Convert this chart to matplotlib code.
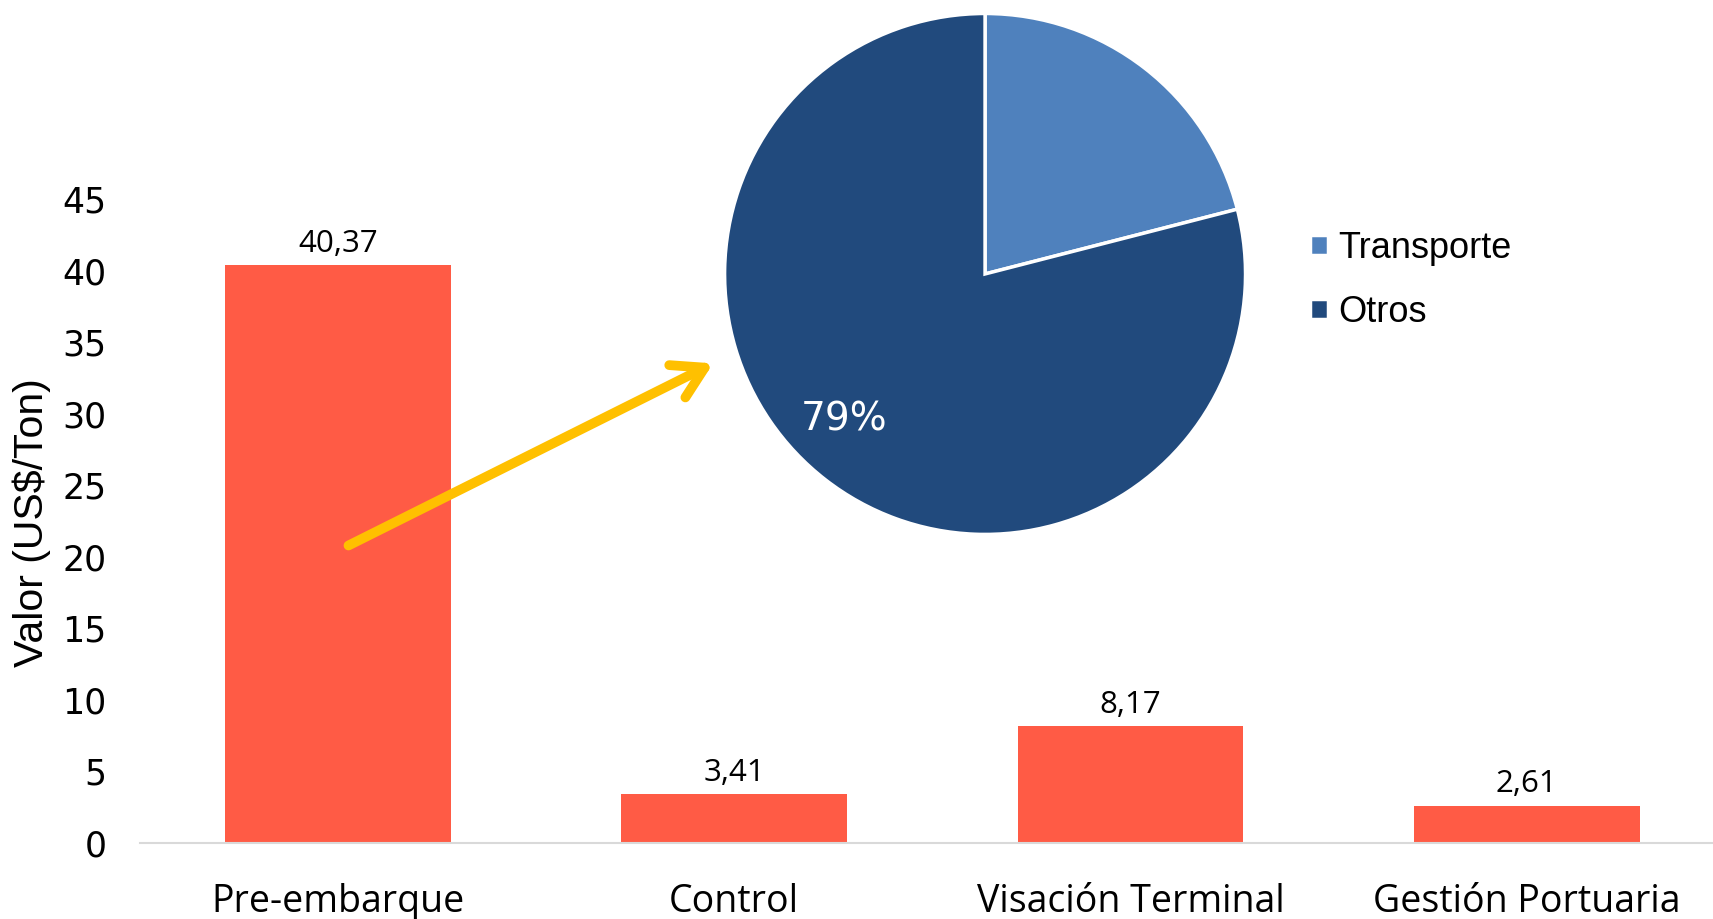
import matplotlib
matplotlib.use("Agg")
import matplotlib.pyplot as plt

# datos de las barras
categorias = ["Pre-embarque", "Control", "Visación Terminal", "Gestión Portuaria"]
valores = [40.37, 3.41, 8.17, 2.61]
etiquetas = ["40,37", "3,41", "8,17", "2,61"]

# datos del gráfico de torta
partes = ["Transporte", "Otros"]
porcentajes = [21, 79]

fig = plt.figure(figsize=(17.13, 9.19), dpi=100)

ax = fig.add_axes([0.0817, 0.0827, 0.9183, 0.7008])
barras = ax.bar(range(len(categorias)), valores, width=0.57, color="#FF5B45")
ax.bar_label(barras, labels=etiquetas, padding=4.5, fontsize=22.5, family="Open Sans")
ax.set_xlim(-0.5, 3.47)
ax.set_ylim(0, 45)
ax.set_yticks(range(0, 50, 5))
ax.set_xticks(range(len(categorias)))
ax.set_xticklabels(categorias, fontsize=27, family="Open Sans")
ax.tick_params(axis="y", length=0, pad=24, labelsize=25)
ax.tick_params(axis="x", length=0, pad=29)
for s in ["top", "right", "left"]:
    ax.spines[s].set_visible(False)
ax.spines["bottom"].set_color("#D9D9D9")
ax.spines["bottom"].set_linewidth(1.5)
ax.set_ylabel("Valor (US$/Ton)", fontsize=29.5, family="Liberation Sans")
ax.yaxis.set_label_coords(-0.0565, 0.498)

# flecha amarilla
ax.annotate("", xy=(0.953, 33.6), xytext=(0.02, 20.7),
            arrowprops=dict(arrowstyle="->,head_length=2.2,head_width=1.3",
                            color="#FFC000", lw=7, capstyle="round",
                            joinstyle="round"))

# torta
ax2 = fig.add_axes([0.423, 0.4184, 0.3041, 0.567])
cunas, textos, pct = ax2.pie(porcentajes, colors=["#4F81BD", "#214A7D"], startangle=90,
                             counterclock=False, radius=1,
                             autopct=lambda p: f"{p:.0f}%" if p > 50 else "",
                             wedgeprops=dict(edgecolor="white", linewidth=2.5),
                             textprops=dict(color="white", fontsize=28))
pct[1].set_position((-0.542, -0.559))
ax2.set_xlim(-1, 1)
ax2.set_ylim(-1, 1)
ax2.set_aspect("equal")

fig.legend(cunas, partes, loc="center left", bbox_to_anchor=(0.7645, 0.695),
           frameon=False, prop=dict(family="Liberation Sans", size=26),
           handlelength=0.5, handleheight=0.5, handletextpad=0.3,
           labelspacing=0.8, borderpad=0, borderaxespad=0)

fig.savefig("out.png", dpi=100)
